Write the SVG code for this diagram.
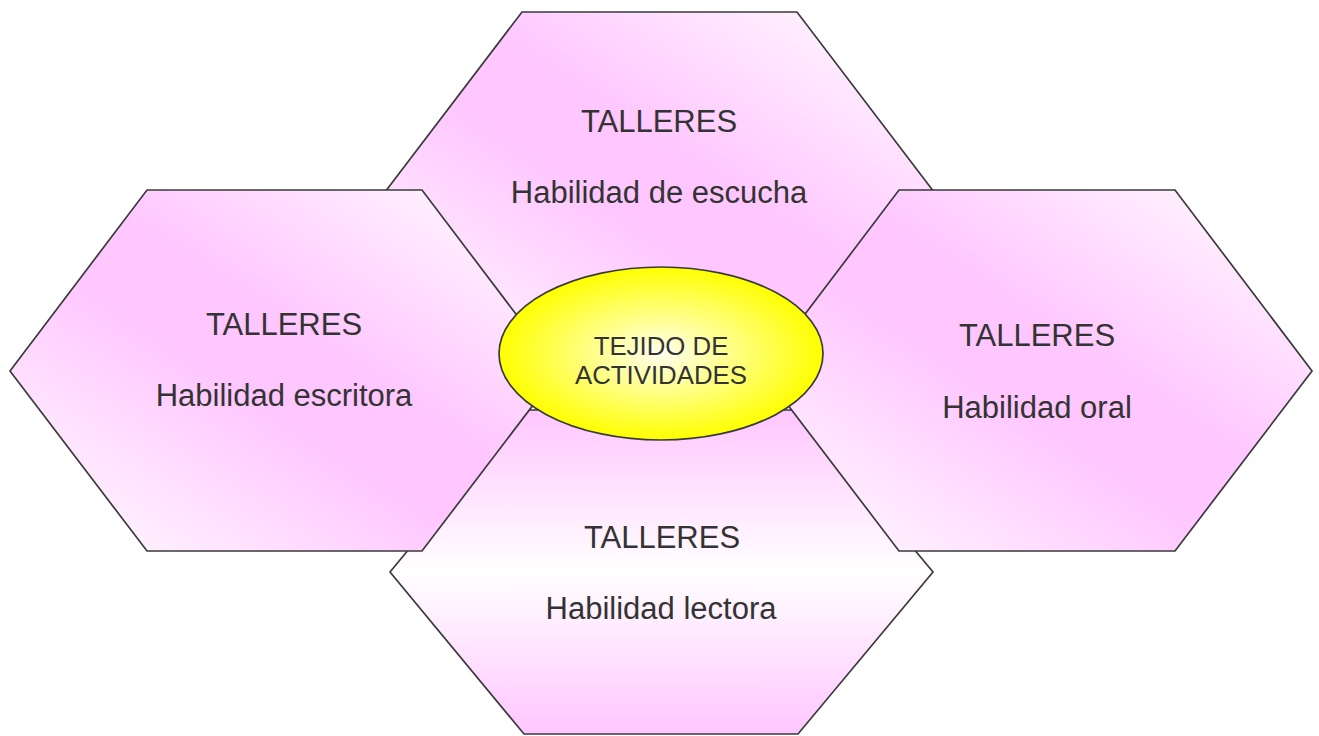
<svg xmlns="http://www.w3.org/2000/svg" width="1319" height="736" viewBox="0 0 1319 736">
<defs>
<linearGradient id="gDiag" x1="1" y1="0" x2="0" y2="1">
<stop offset="0" stop-color="#FFFFFF"/>
<stop offset="0.44" stop-color="#FFC6FF"/>
<stop offset="0.56" stop-color="#FFC6FF"/>
<stop offset="1" stop-color="#FFFFFF"/>
</linearGradient>
<linearGradient id="gVert" x1="0" y1="0" x2="0" y2="1">
<stop offset="0" stop-color="#FFC6FF"/>
<stop offset="0.5" stop-color="#FFFFFF"/>
<stop offset="1" stop-color="#FFC6FF"/>
</linearGradient>
<radialGradient id="gYel" cx="0.5" cy="0.5" r="0.5">
<stop offset="0" stop-color="#FFFFF0"/>
<stop offset="1" stop-color="#FFFF00"/>
</radialGradient>
</defs>
<style>
.hex{stroke:#3A3A3A;stroke-width:1.7;stroke-linejoin:miter}
.t{font-family:"Liberation Sans",Arial,sans-serif;font-size:31px;fill:#333333;text-anchor:middle}
.c{font-family:"Liberation Sans",Arial,sans-serif;font-size:25.8px;fill:#333333;text-anchor:middle}
</style>
<g id="connectors"></g>
<g id="hex-escucha">
<polygon class="hex" fill="url(#gDiag)" points="522,12 797,12 934,192 797,372 522,372 385,192"/>
<text class="t" x="659" y="132">TALLERES</text>
<text class="t" x="659" y="203">Habilidad de escucha</text>
</g>
<g id="hex-lectora">
<polygon class="hex" fill="url(#gVert)" points="390,572 524,410 798,410 933,572 798,734 524,734"/>
<text class="t" x="662" y="548">TALLERES</text>
<text class="t" x="661" y="619">Habilidad lectora</text>
</g>
<g id="hex-escritora">
<polygon class="hex" fill="url(#gDiag)" points="147,190 422,190 559,371 422,551 147,551 10,371"/>
<text class="t" x="284" y="335">TALLERES</text>
<text class="t" x="284" y="406">Habilidad escritora</text>
</g>
<g id="hex-oral">
<polygon class="hex" fill="url(#gDiag)" points="899,190 1175,190 1312,371 1175,551 899,551 762,371"/>
<text class="t" x="1037" y="346">TALLERES</text>
<text class="t" x="1037" y="418">Habilidad oral</text>
</g>
<g id="center">
<ellipse cx="661" cy="353.5" rx="162" ry="86.5" fill="url(#gYel)" stroke="#3A3A3A" stroke-width="1.7"/>
<text class="c" x="661" y="355">TEJIDO DE</text>
<text class="c" x="661" y="384">ACTIVIDADES</text>
</g>
</svg>
